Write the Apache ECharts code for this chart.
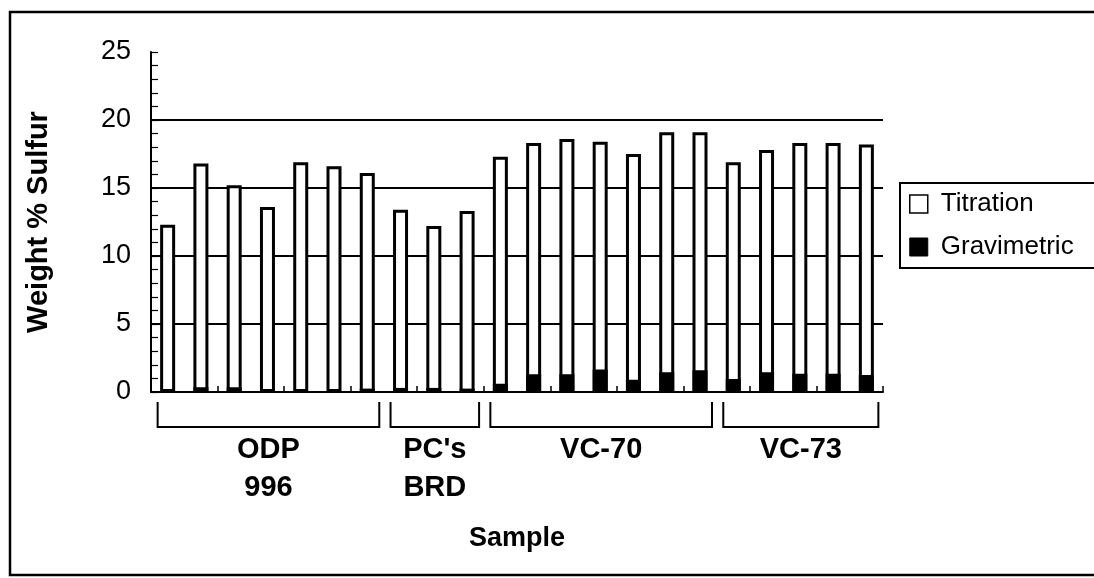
<!DOCTYPE html>
<html><head><meta charset="utf-8">
<script src="https://cdn.jsdelivr.net/npm/echarts@6/dist/echarts.min.js"></script>
<style>html,body{margin:0;padding:0;background:#fff}#c{width:1094px;height:578px}</style>
</head><body><div id="c"></div>
<script>
// ---- data ----
const categories = ['ODP-1','ODP-2','ODP-3','ODP-4','ODP-5','ODP-6','ODP-7',
  'BRD-1','BRD-2','BRD-3',
  'VC70-1','VC70-2','VC70-3','VC70-4','VC70-5','VC70-6','VC70-7',
  'VC73-1','VC73-2','VC73-3','VC73-4','VC73-5'];
const titration = [12.3,16.8,15.2,13.6,16.9,16.6,16.1, 13.4,12.2,13.3, 17.3,18.3,18.6,18.4,17.5,19.1,19.1, 16.9,17.8,18.3,18.3,18.2];
const gravimetric = [0.2,0.35,0.35,0.2,0.15,0.1,0.25, 0.3,0.3,0.25, 0.6,1.3,1.3,1.65,0.9,1.45,1.6, 0.95,1.45,1.35,1.35,1.25];
const groupNames = ['ODP\n996', "PC's\nBRD", 'VC-70', 'VC-73'];
const groupStart = [0, 7, 10, 17];
const groupEnd = [6, 9, 16, 21];
const yMin = 0, yMax = 25, yStep = 5;

const chart = echarts.init(document.getElementById('c'), null, {renderer:'canvas'});
const F = 'Liberation Sans, Arial, sans-serif';
const option = {
  animation: false,
  backgroundColor: '#fff',
  grid: {left: 151, right: 211, top: 52, bottom: 186, containLabel: false},
  legend: {
    orient: 'vertical', left: 900, top: 183,
    padding: [8, 40, 8, 9], itemGap: 17, itemWidth: 18, itemHeight: 18,
    borderColor: '#000', borderWidth: 2, borderRadius: 0,
    textStyle: {fontFamily: F, fontSize: 26, color: '#000', padding: [0,0,0,8]},
    data: [
      {name: 'Titration', icon: 'rect', itemStyle: {color: '#fff', borderColor: '#000', borderWidth: 1.5}},
      {name: 'Gravimetric', icon: 'rect', itemStyle: {color: '#000', borderColor: '#000', borderWidth: 1}}
    ]
  },
  xAxis: {
    type: 'category', data: categories,
    name: 'Sample', nameLocation: 'middle', nameGap: 133,
    nameTextStyle: {fontFamily: F, fontSize: 27, fontWeight: 'bold', color: '#000'},
    axisLine: {lineStyle: {color: '#000', width: 2}},
    axisTick: {show: true, inside: true, length: 6, lineStyle: {color: '#000', width: 1.5}},
    axisLabel: {show: false}
  },
  yAxis: {
    type: 'value', min: yMin, max: yMax, interval: yStep,
    name: 'Weight % Sulfur', nameLocation: 'middle', nameGap: 98,
    nameTextStyle: {fontFamily: F, fontSize: 29, fontWeight: 'bold', color: '#000'},
    axisLine: {show: true, lineStyle: {color: '#000', width: 2}},
    axisTick: {show: true, inside: true, length: 7, lineStyle: {color: '#000', width: 1.2}},
    minorTick: {show: true, splitNumber: 5, length: 7, lineStyle: {color: '#000', width: 1.2}},
    axisLabel: {fontFamily: F, fontSize: 27, color: '#000', margin: 20},
    splitLine: {show: true, lineStyle: {color: ['rgba(0,0,0,0)','#000','#000','#000','#000','rgba(0,0,0,0)'], width: 1.8}}
  },
  series: [
    {name: 'Titration', type: 'bar', data: titration, barWidth: 15, barGap: '-100%',
     itemStyle: {color: '#fff', borderColor: '#000', borderWidth: 3}},
    {name: 'Gravimetric', type: 'bar', data: gravimetric, barWidth: 15, barGap: '-100%',
     itemStyle: {color: '#000', borderColor: '#000', borderWidth: 3}}
  ]
};
chart.setOption(option);

// group brackets and labels, positioned through the category axis
const g = [];
const axisY = chart.convertToPixel({yAxisIndex: 0}, 0);
for (let i = 0; i < groupNames.length; i++) {
  const x0 = chart.convertToPixel({xAxisIndex: 0}, categories[groupStart[i]]) - 10;
  const x1 = chart.convertToPixel({xAxisIndex: 0}, categories[groupEnd[i]]) + 12;
  const yTop = axisY + 10, yBot = axisY + 35;
  g.push({type: 'polyline', shape: {points: [[x0, yTop], [x0, yBot], [x1, yBot], [x1, yTop]]},
    style: {stroke: '#000', lineWidth: 2, fill: null}, silent: true});
  g.push({type: 'text', x: (x0 + x1) / 2, y: yBot + 4,
    style: {text: groupNames[i], fill: '#000', font: 'bold 29px ' + F, align: 'center', verticalAlign: 'top', lineHeight: 38}, silent: true});
}
// outer frame
g.push({type: 'rect', shape: {x: 10, y: 12, width: 1100, height: 563},
  style: {stroke: '#000', lineWidth: 2.5, fill: null}, silent: true, z: 100});
chart.setOption({graphic: g});
</script></body></html>
